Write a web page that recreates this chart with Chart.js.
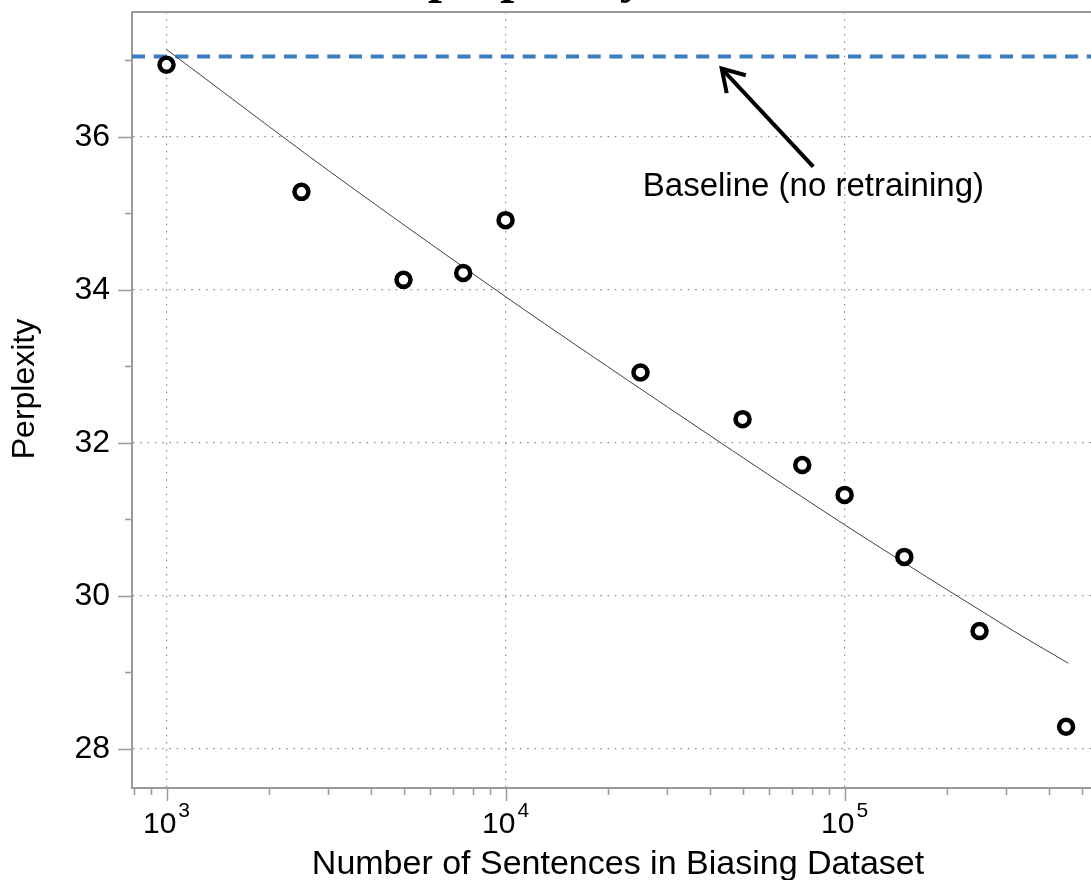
<!DOCTYPE html>
<html lang="en">
<head>
    <meta charset="UTF-8">
    <title>Perplexity vs. Biasing Dataset Size</title>
    <script src="https://cdn.jsdelivr.net/npm/chart.js"></script>
    <style>
        * {
            margin: 0;
            padding: 0;
            box-sizing: border-box;
        }

        body {
            background: #fff;
            width: 1091px;
            height: 880px;
            overflow: hidden;
        }

        canvas {
            display: block;
        }
    </style>
</head>
<body>
    <canvas id="perplexityChart" width="1091" height="880"></canvas>

    <script>
        // Measured points: number of sentences in biasing set -> perplexity
        const sentenceCounts = [1000, 2500, 5000, 7500, 10000, 25000, 50000, 75000, 100000, 150000, 250000, 450000];
        const perplexity = [36.94, 35.28, 34.13, 34.22, 34.91, 32.92, 32.31, 31.71, 31.32, 30.51, 29.54, 28.29];

        // Trend line
        const fitCounts = [1000, 3000, 10000, 30000, 100000, 300000, 457000];
        const fitPerplexity = [37.14, 35.56, 33.91, 32.47, 30.93, 29.60, 29.12];

        // Baseline (no retraining)
        const baselinePerplexity = 37.05;

        // Axis ranges and ticks
        const xRange = [791, 533000];
        const yRange = [27.49, 37.63];
        const xMajorTicks = [1000, 10000, 100000];
        const xMinorTicks = [800, 900,
            2000, 3000, 4000, 5000, 6000, 7000, 8000, 9000,
            20000, 30000, 40000, 50000, 60000, 70000, 80000, 90000,
            200000, 300000, 400000, 500000];
        const yMajorTicks = [28, 30, 32, 34, 36];
        const yMinorTicks = [29, 31, 33, 35, 37];

        // Annotation (data units)
        const annotationText = 'Baseline (no retraining)';
        const annotationAt = [80900, 35.22];
        const arrowFrom = [80800, 35.61];
        const arrowTo = [43400, 36.89];

        const FONT = '"Liberation Sans", Arial, Helvetica, sans-serif';
        const AXIS_COLOR = '#9a9a9a';
        const GRID_COLOR = '#8c8c8c';

        // Extra drawing: frame top, tick marks, power-of-ten labels, titles, arrow
        const decorations = {
            id: 'decorations',
            afterDraw(chart) {
                const { ctx, chartArea: a, scales: { x, y } } = chart;
                ctx.save();

                // top frame line
                ctx.strokeStyle = AXIS_COLOR;
                ctx.lineWidth = 2;
                ctx.beginPath();
                ctx.moveTo(a.left - 1, a.top);
                ctx.lineTo(a.right, a.top);
                ctx.stroke();

                // tick marks (outside)
                ctx.lineWidth = 1.5;
                const xTick = (v, len) => {
                    const px = Math.round(x.getPixelForValue(v)) + 0.5;
                    ctx.beginPath();
                    ctx.moveTo(px, a.bottom + 1);
                    ctx.lineTo(px, a.bottom + len);
                    ctx.stroke();
                };
                const yTick = (v, len) => {
                    const py = Math.round(y.getPixelForValue(v)) + 0.5;
                    ctx.beginPath();
                    ctx.moveTo(a.left - 1, py);
                    ctx.lineTo(a.left - len, py);
                    ctx.stroke();
                };
                xMajorTicks.forEach(v => xTick(v, 13));
                xMinorTicks.forEach(v => xTick(v, 7));
                yMajorTicks.forEach(v => yTick(v, 14));
                yMinorTicks.forEach(v => yTick(v, 7));

                // 10^n labels
                ctx.fillStyle = '#000';
                ctx.textAlign = 'left';
                ctx.textBaseline = 'alphabetic';
                xMajorTicks.forEach(v => {
                    const px = x.getPixelForValue(v);
                    const exp = String(Math.round(Math.log10(v)));
                    ctx.font = '30px ' + FONT;
                    const wBase = ctx.measureText('10').width;
                    ctx.font = '21px ' + FONT;
                    const wExp = ctx.measureText(exp).width;
                    const left = px - (wBase + 2 + wExp) / 2;
                    ctx.font = '30px ' + FONT;
                    ctx.fillText('10', left, a.bottom + 45);
                    ctx.font = '21px ' + FONT;
                    ctx.fillText(exp, left + wBase + 2, a.bottom + 29);
                });

                // axis titles
                ctx.font = '34px ' + FONT;
                ctx.textAlign = 'center';
                ctx.fillText('Number of Sentences in Biasing Dataset', 618, 874);

                ctx.save();
                ctx.translate(25, 389);
                ctx.rotate(-Math.PI / 2);
                ctx.font = '32px ' + FONT;
                ctx.textBaseline = 'middle';
                ctx.fillText('Perplexity', 0, 0);
                ctx.restore();

                // title, cut off by the top of the image
                ctx.font = 'bold 50px "Liberation Serif", "Times New Roman", serif';
                ctx.textAlign = 'left';
                ctx.textBaseline = 'alphabetic';
                ctx.fillText('perplexity', 428, -8);

                // annotation text
                ctx.font = '33px ' + FONT;
                ctx.textAlign = 'center';
                ctx.fillText(annotationText,
                    x.getPixelForValue(annotationAt[0]), y.getPixelForValue(annotationAt[1]));

                // arrow
                const x1 = x.getPixelForValue(arrowFrom[0]), y1 = y.getPixelForValue(arrowFrom[1]);
                const x2 = x.getPixelForValue(arrowTo[0]), y2 = y.getPixelForValue(arrowTo[1]);
                const ang = Math.atan2(y1 - y2, x1 - x2);
                ctx.strokeStyle = '#000';
                ctx.lineWidth = 4;
                ctx.lineCap = 'butt';
                ctx.beginPath();
                ctx.moveTo(x1, y1);
                ctx.lineTo(x2 + 2 * Math.cos(ang), y2 + 2 * Math.sin(ang));
                ctx.stroke();
                ctx.beginPath();
                ctx.moveTo(x2 + 25 * Math.cos(ang - 0.55), y2 + 25 * Math.sin(ang - 0.55));
                ctx.lineTo(x2, y2);
                ctx.lineTo(x2 + 25 * Math.cos(ang + 0.55), y2 + 25 * Math.sin(ang + 0.55));
                ctx.stroke();

                ctx.restore();
            }
        };

        const ctx = document.getElementById('perplexityChart').getContext('2d');
        const perplexityChart = new Chart(ctx, {
            type: 'scatter',
            data: {
                datasets: [
                    {
                        label: 'Baseline',
                        type: 'line',
                        data: [{ x: xRange[0], y: baselinePerplexity }, { x: xRange[1], y: baselinePerplexity }],
                        borderColor: '#3b7dbd',
                        borderWidth: 4,
                        borderDash: [13, 8.7],
                        pointRadius: 0,
                        order: 3
                    },
                    {
                        label: 'Fit',
                        type: 'line',
                        data: fitCounts.map((c, i) => ({ x: c, y: fitPerplexity[i] })),
                        borderColor: '#404040',
                        borderWidth: 1,
                        pointRadius: 0,
                        tension: 0.3,
                        order: 2
                    },
                    {
                        label: 'Perplexity',
                        data: sentenceCounts.map((c, i) => ({ x: c, y: perplexity[i] })),
                        pointRadius: 7,
                        borderWidth: 4.5,
                        pointBorderWidth: 4.5,
                        borderColor: '#000',
                        backgroundColor: '#fff',
                        order: 1
                    }
                ]
            },
            options: {
                responsive: false,
                devicePixelRatio: 1,
                animation: false,
                layout: { autoPadding: false, padding: { top: 12, right: 0, left: 0, bottom: 0 } },
                plugins: {
                    legend: { display: false },
                    tooltip: { enabled: false }
                },
                scales: {
                    x: {
                        type: 'logarithmic',
                        min: xRange[0],
                        max: xRange[1],
                        afterBuildTicks: s => { s.ticks = xMajorTicks.map(v => ({ value: v })); },
                        afterFit: s => {
                            s.height = 92;
                            s.paddingLeft = 0;
                            s.paddingRight = 0;
                        },
                        ticks: { display: false },
                        grid: { color: GRID_COLOR, lineWidth: 1.2, drawTicks: false },
                        border: { color: AXIS_COLOR, width: 2, dash: [1.5, 5.8] }
                    },
                    y: {
                        min: yRange[0],
                        max: yRange[1],
                        afterBuildTicks: s => { s.ticks = yMajorTicks.map(v => ({ value: v })); },
                        afterFit: s => {
                            s.width = 132;
                            s.paddingTop = 0;
                            s.paddingBottom = 0;
                        },
                        ticks: {
                            padding: 22,
                            color: '#000',
                            font: { family: FONT, size: 32 }
                        },
                        grid: { color: GRID_COLOR, lineWidth: 1.2, drawTicks: false },
                        border: { color: AXIS_COLOR, width: 2, dash: [1.5, 5.8] }
                    }
                }
            },
            plugins: [decorations]
        });
    </script>
</body>
</html>
